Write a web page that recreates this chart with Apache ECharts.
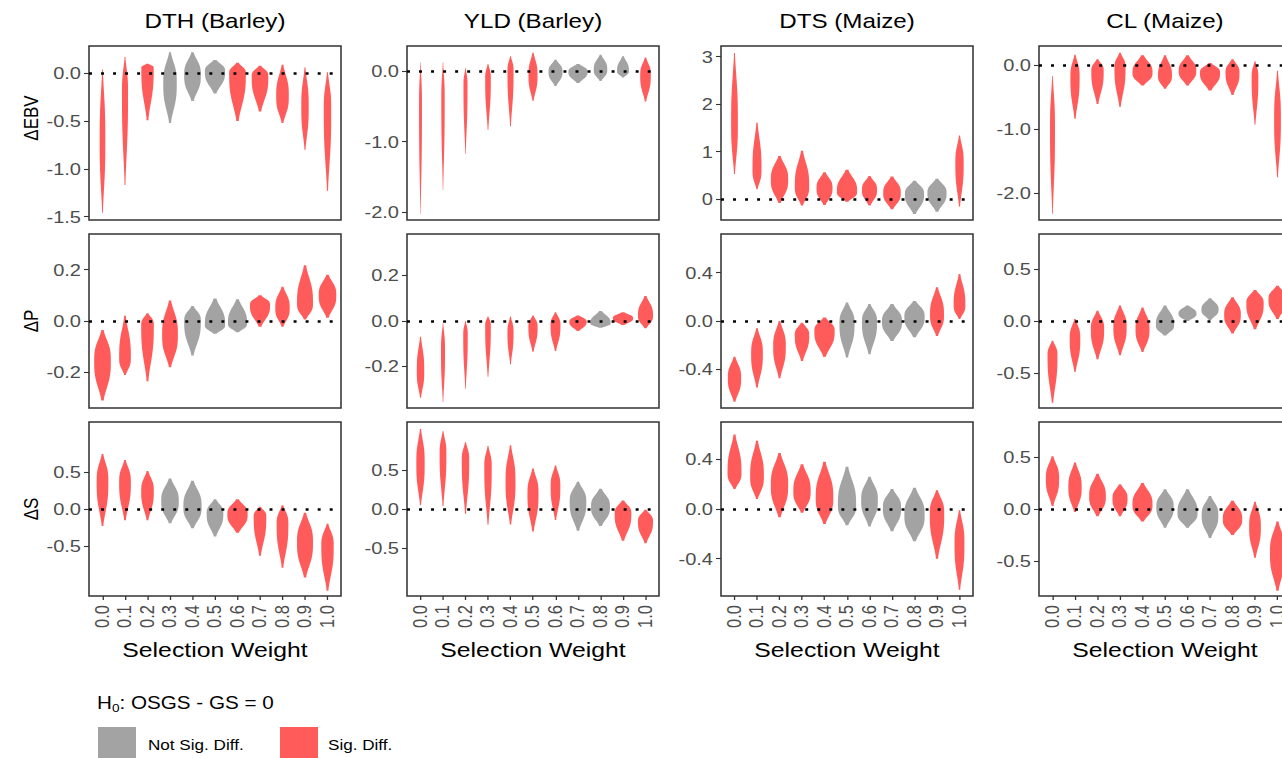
<!DOCTYPE html>
<html>
<head>
<meta charset="utf-8">
<script src="https://cdn.jsdelivr.net/npm/echarts@6/dist/echarts.min.js"></script>
<style>
html, body { margin: 0; padding: 0; background: #fff; overflow: hidden; }
#wrap { width: 1282px; height: 758px; overflow: hidden; }
/* the original figure is stretched sideways, so draw narrow and widen it */
#chart { width: 1087px; height: 758px; transform: scaleX(1.18); transform-origin: 0 0; }
</style>
</head>
<body>
<div id="wrap"><div id="chart"></div></div>
<script>
const SX = 1.18;
const FONT = '"Liberation Sans", Arial, sans-serif';
const RED = '#FF5B5B';
const GREY = '#A3A3A3';

const weights = [0, 0.1, 0.2, 0.3, 0.4, 0.5, 0.6, 0.7, 0.8, 0.9, 1.0];
const traits = ['DTH (Barley)', 'YLD (Barley)', 'DTS (Maize)', 'CL (Maize)'];
const measures = ['ΔEBV', 'ΔP', 'ΔS'];

// one violin per weight: [min, value at widest point, max, relative peak density, significant]
const dthEbv = [
  [-1.46, -0.70, 0.04, 0.25, 1], [-1.17, -0.20, 0.17, 0.27, 1], [-0.49, 0.06, 0.10, 0.55, 1],
  [-0.52, -0.10, 0.22, 0.60, 0], [-0.29, -0.02, 0.22, 0.74, 0], [-0.21, 0.02, 0.14, 0.90, 0],
  [-0.50, 0.00, 0.11, 0.74, 1], [-0.40, -0.03, 0.08, 0.74, 1], [-0.52, -0.24, 0.09, 0.56, 1],
  [-0.80, -0.35, 0.06, 0.33, 1], [-1.23, -0.38, 0.01, 0.33, 1]
];
const yldEbv = [
  [-2.02, -0.50, 0.12, 0.13, 1], [-1.68, -0.40, 0.12, 0.15, 1], [-1.17, -0.20, 0.04, 0.18, 1],
  [-0.83, -0.10, 0.10, 0.25, 1], [-0.78, 0.00, 0.21, 0.27, 1], [-0.42, -0.06, 0.26, 0.40, 1],
  [-0.21, -0.01, 0.16, 0.62, 0], [-0.17, -0.01, 0.10, 0.85, 0], [-0.14, 0.02, 0.23, 0.60, 0],
  [-0.09, 0.00, 0.21, 0.53, 0], [-0.43, -0.06, 0.19, 0.47, 1]
];
const dtsEbv = [
  [0.53, 1.60, 3.08, 0.30, 1], [0.21, 0.62, 1.61, 0.40, 1], [-0.08, 0.41, 0.91, 0.77, 1],
  [-0.13, 0.27, 1.02, 0.64, 1], [-0.12, 0.23, 0.57, 0.71, 1], [-0.05, 0.16, 0.62, 0.90, 1],
  [-0.13, 0.20, 0.49, 0.67, 1], [-0.21, 0.13, 0.48, 0.78, 1], [-0.31, 0.11, 0.39, 0.85, 0],
  [-0.26, 0.13, 0.43, 0.85, 0], [-0.15, 0.76, 1.34, 0.37, 1]
];
const clEbv = [
  [-2.32, -1.00, -0.17, 0.22, 1], [-0.84, -0.19, 0.16, 0.41, 1], [-0.61, -0.09, 0.09, 0.55, 1],
  [-0.65, -0.04, 0.19, 0.49, 1], [-0.32, -0.12, 0.15, 0.89, 1], [-0.37, -0.17, 0.15, 0.62, 1],
  [-0.32, -0.09, 0.15, 0.78, 1], [-0.40, -0.12, 0.03, 0.89, 1], [-0.47, -0.12, 0.09, 0.62, 1],
  [-0.93, -0.19, 0.06, 0.30, 1], [-1.75, -0.85, -0.09, 0.30, 1]
];
const dthP = [
  [-0.31, -0.155, -0.035, 0.74, 1], [-0.21, -0.145, 0.02, 0.52, 1], [-0.235, -0.015, 0.03, 0.56, 1],
  [-0.18, -0.054, 0.08, 0.70, 1], [-0.134, 0.0, 0.058, 0.74, 0], [-0.05, -0.015, 0.088, 0.90, 0],
  [-0.044, -0.01, 0.085, 0.85, 0], [-0.022, 0.062, 0.10, 0.89, 1], [-0.022, 0.05, 0.133, 0.64, 1],
  [0.006, 0.068, 0.217, 0.71, 1], [0.013, 0.10, 0.18, 0.78, 1]
];
const yldP = [
  [-0.337, -0.22, -0.069, 0.33, 1], [-0.356, -0.13, -0.01, 0.18, 1], [-0.297, -0.06, 0.0, 0.20, 1],
  [-0.245, -0.02, 0.02, 0.25, 1], [-0.19, -0.05, 0.02, 0.27, 1], [-0.135, -0.025, 0.024, 0.41, 1],
  [-0.132, -0.018, 0.038, 0.44, 1], [-0.044, -0.003, 0.024, 0.77, 1], [-0.03, -0.01, 0.044, 0.90, 0],
  [-0.018, 0.012, 0.038, 0.90, 1], [-0.032, 0.024, 0.11, 0.67, 1]
];
const dtsP = [
  [-0.668, -0.474, -0.295, 0.59, 1], [-0.55, -0.27, -0.06, 0.52, 1], [-0.474, -0.21, 0.0, 0.56, 1],
  [-0.33, -0.116, -0.014, 0.64, 1], [-0.295, -0.083, 0.028, 0.90, 1], [-0.303, -0.02, 0.154, 0.67, 0],
  [-0.276, -0.005, 0.14, 0.67, 0], [-0.166, -0.005, 0.14, 0.89, 0], [-0.135, 0.036, 0.166, 0.90, 0],
  [-0.124, 0.05, 0.28, 0.62, 1], [0.017, 0.13, 0.39, 0.52, 1]
];
const clP = [
  [-0.79, -0.33, -0.19, 0.44, 1], [-0.49, -0.17, 0.02, 0.47, 1], [-0.37, -0.08, 0.10, 0.59, 1],
  [-0.33, -0.06, 0.15, 0.59, 1], [-0.30, -0.08, 0.13, 0.62, 1], [-0.14, -0.04, 0.15, 0.81, 0],
  [0.0, 0.07, 0.15, 0.80, 0], [0.01, 0.11, 0.22, 0.76, 0], [-0.12, 0.06, 0.23, 0.74, 1],
  [-0.08, 0.17, 0.30, 0.77, 1], [0.02, 0.21, 0.34, 0.80, 1]
];
const dthS = [
  [-0.23, 0.37, 0.74, 0.52, 1], [-0.15, 0.36, 0.66, 0.52, 1], [-0.15, 0.24, 0.51, 0.56, 1],
  [-0.19, 0.10, 0.41, 0.78, 0], [-0.26, 0.03, 0.38, 0.81, 0], [-0.37, -0.06, 0.13, 0.74, 0],
  [-0.32, -0.07, 0.13, 0.90, 1], [-0.63, -0.10, 0.03, 0.56, 1], [-0.79, -0.20, 0.05, 0.52, 1],
  [-0.92, -0.45, -0.05, 0.71, 1], [-1.10, -0.49, -0.20, 0.55, 1]
];
const yldS = [
  [0.05, 0.59, 1.03, 0.37, 1], [0.04, 0.71, 1.00, 0.30, 1], [-0.06, 0.63, 0.86, 0.33, 1],
  [-0.20, 0.54, 0.81, 0.33, 1], [-0.20, 0.35, 0.82, 0.44, 1], [-0.29, 0.20, 0.52, 0.49, 1],
  [-0.14, 0.29, 0.56, 0.43, 1], [-0.28, 0.09, 0.35, 0.74, 0], [-0.22, 0.03, 0.26, 0.84, 0],
  [-0.41, -0.06, 0.11, 0.74, 1], [-0.44, -0.16, -0.01, 0.67, 1]
];
const dtsS = [
  [0.16, 0.29, 0.60, 0.62, 1], [0.08, 0.26, 0.55, 0.61, 1], [-0.067, 0.19, 0.45, 0.77, 1],
  [-0.03, 0.14, 0.36, 0.77, 1], [-0.12, 0.086, 0.38, 0.78, 1], [-0.13, 0.03, 0.34, 0.81, 0],
  [-0.14, 0.07, 0.26, 0.74, 0], [-0.18, 0.01, 0.16, 0.81, 0], [-0.26, -0.05, 0.17, 0.90, 0],
  [-0.40, -0.035, 0.15, 0.64, 1], [-0.65, -0.28, -0.01, 0.44, 1]
];
const clS = [
  [0.03, 0.29, 0.51, 0.59, 1], [-0.03, 0.21, 0.45, 0.59, 1], [-0.07, 0.12, 0.34, 0.74, 1],
  [-0.07, 0.10, 0.24, 0.67, 1], [-0.12, 0.04, 0.25, 0.89, 1], [-0.18, 0.02, 0.19, 0.77, 0],
  [-0.18, -0.04, 0.19, 0.89, 0], [-0.28, -0.06, 0.125, 0.74, 0], [-0.25, -0.10, 0.08, 0.86, 1],
  [-0.47, -0.17, 0.07, 0.52, 1], [-0.79, -0.42, -0.12, 0.67, 1]
];

// y tick values per panel
const ticksEbv = [[-1.5, -1, -0.5, 0], [-2, -1, 0], [0, 1, 2, 3], [-2, -1, 0]];
const ticksP = [[-0.2, 0, 0.2], [-0.2, 0, 0.2], [-0.4, 0, 0.4], [-0.5, 0, 0.5]];
const ticksS = [[-0.5, 0, 0.5], [-0.5, 0, 0.5], [-0.4, 0, 0.4], [-0.5, 0, 0.5]];

const panels = [
  { row: 0, col: 0, data: dthEbv, min: -1.535, max: 0.286, ticks: ticksEbv[0], dec: 1 },
  { row: 0, col: 1, data: yldEbv, min: -2.107, max: 0.354, ticks: ticksEbv[1], dec: 1 },
  { row: 0, col: 2, data: dtsEbv, min: -0.436, max: 3.225, ticks: ticksEbv[2], dec: 0 },
  { row: 0, col: 3, data: clEbv, min: -2.418, max: 0.296, ticks: ticksEbv[3], dec: 1 },
  { row: 1, col: 0, data: dthP, min: -0.339, max: 0.339, ticks: ticksP[0], dec: 1 },
  { row: 1, col: 1, data: yldP, min: -0.382, max: 0.382, ticks: ticksP[1], dec: 1 },
  { row: 1, col: 2, data: dtsP, min: -0.72, max: 0.72, ticks: ticksP[2], dec: 1 },
  { row: 1, col: 3, data: clP, min: -0.84, max: 0.84, ticks: ticksP[3], dec: 1 },
  { row: 2, col: 0, data: dthS, min: -1.17, max: 1.17, ticks: ticksS[0], dec: 1 },
  { row: 2, col: 1, data: yldS, min: -1.12, max: 1.12, ticks: ticksS[1], dec: 1 },
  { row: 2, col: 2, data: dtsS, min: -0.70, max: 0.70, ticks: ticksS[2], dec: 1 },
  { row: 2, col: 3, data: clS, min: -0.84, max: 0.84, ticks: ticksS[3], dec: 1 }
];

// screen layout (before the sideways stretch is undone)
const colLeft = [89, 407, 721, 1039];
const rowTop = [46, 234, 422];
const panelW = 252, panelH = 174;
const rowTitleY = [118, 321, 509];

// rounded violin outline between min and max, widest at the mode
function shape(y, lo, mode, hi) {
  const d = y - mode;
  const s = (d < 0 ? mode - lo : hi - mode) / 1.6;
  const w = s > 0 ? Math.exp(-0.5 * Math.pow(Math.abs(d) / s, 3)) : 1;
  return Math.max(w, 0.16);
}

function renderViolin(params, api) {
  const x = api.value(0), lo = api.value(1), mode = api.value(2), hi = api.value(3);
  const hw = api.value(4) * 0.05;
  const n = 60, right = [], left = [];
  for (let i = 0; i <= n; i++) {
    const y = lo + (hi - lo) * i / n;
    const w = shape(y, lo, mode, hi) * hw;
    right.push(api.coord([x + w, y]));
    left.unshift(api.coord([x - w, y]));
  }
  return {
    type: 'polygon',
    shape: { points: right.concat(left) },
    style: { fill: api.value(5) ? RED : GREY }
  };
}

const grid = [], xAxis = [], yAxis = [], series = [];
panels.forEach((p, k) => {
  grid.push({
    left: colLeft[p.col] / SX, top: rowTop[p.row], width: panelW / SX, height: panelH,
    show: true, borderColor: '#333', borderWidth: 1.3, backgroundColor: 'transparent',
    outerBoundsMode: 'none'
  });
  const bottomRow = p.row === 2;
  xAxis.push({
    gridIndex: k, type: 'value', min: -0.06, max: 1.06, position: 'bottom',
    axisLine: { show: false, onZero: false }, splitLine: { show: false },
    axisTick: { show: bottomRow, inside: false, length: 4, customValues: weights, lineStyle: { color: '#333', width: 1.1 } },
    axisLabel: {
      show: bottomRow, customValues: weights, rotate: 90, margin: 9,
      fontSize: 16.5, color: '#4D4D4D', fontFamily: FONT,
      formatter: v => v.toFixed(1)
    },
    name: bottomRow ? 'Selection Weight' : '', nameLocation: 'middle', nameGap: 43,
    nameTextStyle: { fontSize: 21, color: '#000', fontFamily: FONT }
  });
  yAxis.push({
    gridIndex: k, type: 'value', min: p.min, max: p.max, position: 'left',
    axisLine: { show: false, onZero: false }, splitLine: { show: false },
    axisTick: { show: true, inside: false, length: 5 / SX, customValues: p.ticks, lineStyle: { color: '#333', width: 1.1 } },
    axisLabel: {
      customValues: p.ticks, margin: 8 / SX, fontSize: 17, color: '#4D4D4D', fontFamily: FONT,
      formatter: v => v.toFixed(p.dec)
    }
  });
  series.push({
    type: 'line', xAxisIndex: k, yAxisIndex: k, data: [[0, 0]],
    showSymbol: false, lineStyle: { opacity: 0 }, z: 1, silent: true,
    markLine: {
      silent: true, symbol: 'none', label: { show: false },
      lineStyle: { color: '#000', type: [2.5, 7.7], width: 2.6 },
      data: [{ yAxis: 0 }]
    }
  });
  series.push({
    type: 'custom', xAxisIndex: k, yAxisIndex: k, z: 3,
    encode: { x: 0, y: [1, 3] },
    data: p.data.map((v, i) => [weights[i]].concat(v)),
    renderItem: renderViolin
  });
});

const graphic = traits.map((t, c) => ({
  type: 'text', x: (colLeft[c] + panelW / 2) / SX, y: 21,
  style: { text: t, font: '20.5px ' + FONT, fill: '#000', align: 'center', verticalAlign: 'middle' }
}));
measures.forEach((m, r) => graphic.push({
  type: 'text', x: 31 / SX, y: rowTitleY[r], rotation: Math.PI / 2,
  style: { text: m, font: '17px ' + FONT, fill: '#000', align: 'center', verticalAlign: 'middle' }
}));
graphic.push(
  {
    type: 'text', x: 97 / SX, y: 703,
    style: {
      text: '{a|H}{s|0}{a|: OSGS - GS = 0}', verticalAlign: 'middle',
      rich: {
        a: { fontSize: 17.5, fontFamily: FONT, fill: '#000', lineHeight: 22 },
        s: { fontSize: 11.5, fontFamily: FONT, fill: '#000', lineHeight: 22, verticalAlign: 'bottom' }
      }
    }
  },
  { type: 'rect', shape: { x: 98 / SX, y: 727, width: 38 / SX, height: 34 }, style: { fill: GREY } },
  {
    type: 'text', x: 148 / SX, y: 745,
    style: { text: 'Not Sig. Diff.', font: '14.5px ' + FONT, fill: '#000', verticalAlign: 'middle' }
  },
  { type: 'rect', shape: { x: 280 / SX, y: 727, width: 38 / SX, height: 34 }, style: { fill: RED } },
  {
    type: 'text', x: 328 / SX, y: 745,
    style: { text: 'Sig. Diff.', font: '14.5px ' + FONT, fill: '#000', verticalAlign: 'middle' }
  }
);

const chart = echarts.init(document.getElementById('chart'), null, { renderer: 'svg' });
chart.setOption({
  animation: false,
  backgroundColor: '#fff',
  grid, xAxis, yAxis, series, graphic
});
</script>
</body>
</html>
